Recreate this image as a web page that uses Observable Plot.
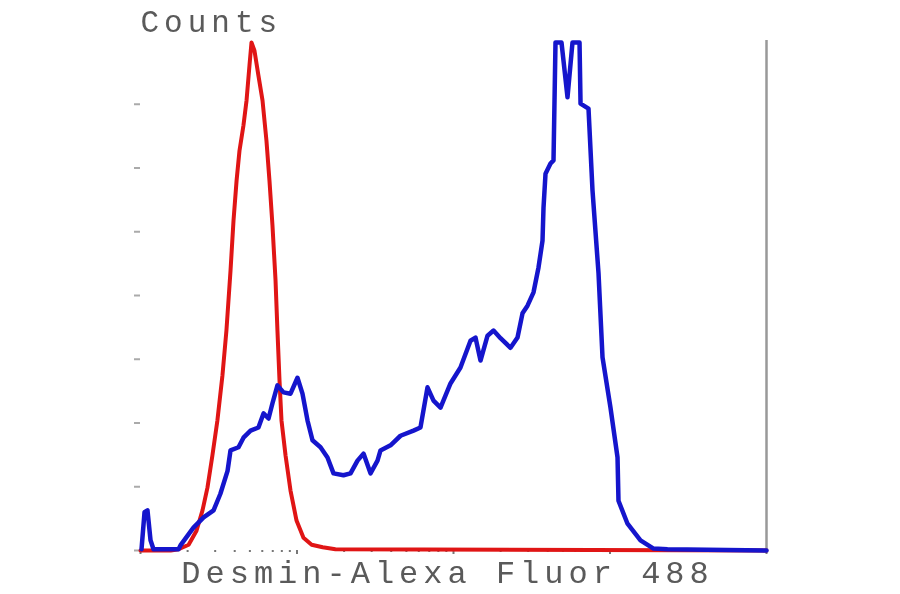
<!DOCTYPE html>
<html>
<head>
<meta charset="utf-8">
<script src="https://cdn.jsdelivr.net/npm/d3@7"></script>
<script src="https://cdn.jsdelivr.net/npm/@observablehq/plot@0.6"></script>
<style>
  html, body { margin: 0; padding: 0; background: #fff; }
  #chart svg { display: block; filter: blur(0.6px); }
  #chart g[aria-label="text"] text { letter-spacing: 5px; }
</style>
</head>
<body>
<div id="chart"></div>
<script>
// Isotype control (red)
const redIntensity = [1, 1.56, 1.75, 2.03, 2.28, 2.49, 2.68, 2.88, 3.10, 3.34, 3.54, 3.76, 3.93, 4.11, 4.29, 4.55, 4.76, 4.97, 5.12, 5.35, 5.67, 6.02, 6.38, 6.67, 6.97, 7.29, 7.50, 7.73, 7.96, 8.45, 9.09, 9.93, 11.0, 12.4, 14.6, 17.6, 10000];
const redCounts    = [0, 0, 2, 9, 31, 63, 99, 149, 204, 275, 345, 439, 518, 580, 627, 667, 706, 761, 797, 784, 745, 706, 643, 580, 510, 424, 345, 267, 204, 149, 94, 47, 20, 9, 5, 2, 0];

// Desmin-Alexa Fluor 488 (blue)
const blueIntensity = [1.015, 1.061, 1.108, 1.159, 1.211, 1.75, 1.80, 2.18, 2.53, 2.93, 3.24, 3.60, 3.76, 4.23, 4.55, 5.05, 5.67, 6.11, 6.58, 6.97, 7.50, 8.20, 9.09, 10.07, 10.84, 11.67, 12.56, 14.13, 15.66, 17.11, 19.82, 21.98, 24.36, 26.61, 29.49, 32.69, 34.16, 39.58, 45.85, 55.51, 61.53, 68.21, 74.52, 82.61, 95.68, 110.8, 128.4, 138.2, 148.8, 165.0, 180.2, 199.7, 231.3, 256.5, 276.0, 297.1, 324.6, 349.3, 370.5, 376.0, 387.2, 416.7, 435.5, 448.5, 489.9, 535.1, 576.0, 638.7, 648.2, 728.9, 773.0, 844.5, 895.8, 1007, 1117, 1133, 1294, 1566, 1897, 2330, 10000];
const blueCounts    = [2, 60, 63, 16, 2, 2, 8, 36, 52, 63, 89, 125, 157, 162, 177, 188, 193, 215, 207, 231, 259, 248, 246, 271, 246, 204, 173, 162, 146, 121, 118, 121, 141, 152, 121, 141, 157, 165, 180, 188, 193, 256, 235, 224, 262, 287, 329, 334, 298, 337, 345, 333, 318, 334, 372, 384, 405, 444, 486, 538, 591, 607, 612, 797, 797, 711, 797, 797, 701, 693, 565, 435, 303, 224, 146, 78, 42, 16, 3, 2, 0];

const yTicks = [0, 100, 200, 300, 400, 500, 600, 700];
const xMajorTicks = [1, 10, 100, 1000, 10000];
const xMinorTicks = [2, 3, 4, 5, 6, 7, 8, 9, 20, 30, 40, 50, 60, 70, 80, 90, 200, 300, 400, 500, 600, 700, 800, 900, 2000, 3000, 4000, 5000, 6000, 7000, 8000, 9000];
const yLabel = "Counts";
const xLabel = "Desmin-Alexa Fluor 488";

const red = redIntensity.map((v, i) => ({x: v, y: redCounts[i]}));
const blue = blueIntensity.map((v, i) => ({x: v, y: blueCounts[i]}));

const chart = Plot.plot({
  width: 900,
  height: 594,
  marginLeft: 140,
  marginRight: 134,
  marginTop: 40,
  marginBottom: 44,
  style: {background: "#fff", fontFamily: "Liberation Mono"},
  x: {type: "log", domain: [1, 10000]},
  y: {domain: [0, 800]},
  marks: [
    Plot.axisY({ticks: yTicks, tickSize: 6, tickFormat: () => "", stroke: "#aaa", strokeWidth: 2, label: null}),
    Plot.axisX({ticks: xMinorTicks, tickSize: 2, tickFormat: () => "", stroke: "#777", strokeWidth: 2, label: null}),
    Plot.axisX({ticks: xMajorTicks, tickSize: 4, tickFormat: () => "", stroke: "#777", strokeWidth: 2, label: null}),
    Plot.ruleX([10000], {stroke: "#999", strokeWidth: 2.5}),
    Plot.line(red, {x: "x", y: "y", stroke: "#e01515", strokeWidth: 4}),
    Plot.line(blue, {x: "x", y: "y", stroke: "#1515cc", strokeWidth: 4.5}),
    Plot.text([yLabel], {frameAnchor: "top-left", textAnchor: "start", lineAnchor: "bottom", dy: -9, fontSize: 31, fill: "#5a5a5a"}),
    Plot.text([xLabel], {frameAnchor: "bottom", textAnchor: "middle", lineAnchor: "bottom", dx: -6, dy: 32, fontSize: 32, fill: "#5a5a5a"})
  ]
});
document.getElementById("chart").appendChild(chart);
</script>
</body>
</html>
